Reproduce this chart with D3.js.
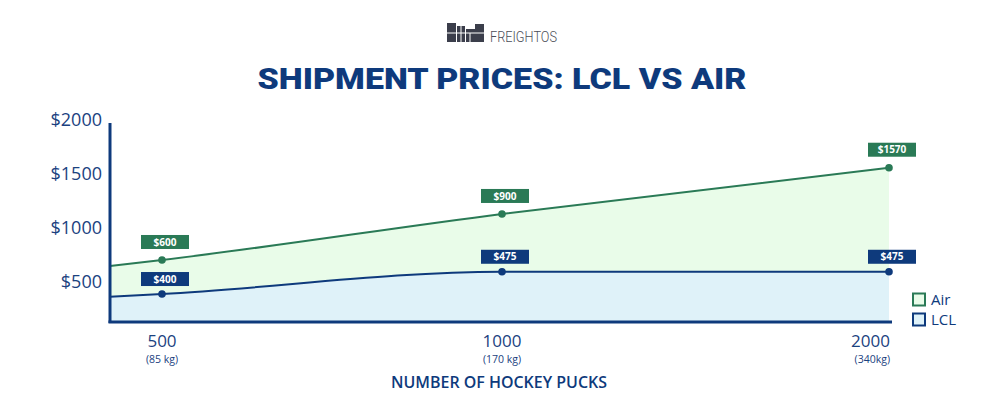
<!DOCTYPE html>
<html><head><meta charset="utf-8">
<script src="https://cdn.jsdelivr.net/npm/d3@7"></script>
<style>
html,body{margin:0;padding:0;background:#fff;}
svg{display:block;}
</style></head>
<body>
<script>
// ---- data ----
const pucks = [500, 1000, 2000];
const weights = ["(85 kg)", "(170 kg)", "(340kg)"];
const airValues = [704, 1130, 1558];      // plotted heights
const lclValues = [389, 595, 595];
const airLabels = ["$600", "$900", "$1570"];
const lclLabels = ["$400", "$475", "$475"];
const axisPucks = 425;                     // x value where the lines meet the y axis
const airAtAxis = 648;
const lclAtAxis = 364;
const yTicks = [500, 1000, 1500, 2000];
const yMin = 130, yMax = 1972;
const seriesNames = ["Air", "LCL"];

const W = 1003, H = 398;
const navy = "#0e3a7c", green = "#2a7a56";
const greenFill = "#e9fce9", blueFill = "#dff2f9";

const svg = d3.select("body").append("svg").attr("width", W).attr("height", H);
svg.append("rect").attr("width", W).attr("height", H).attr("fill", "#fff");

const x = d3.scaleLinear().domain([axisPucks, 500, 1000, 2000]).range([110, 162, 502, 889]);
const y = d3.scaleLinear().domain([yMin, yMax]).range([322, 123]);

const airData = [{p: axisPucks, v: airAtAxis}].concat(pucks.map((p, i) => ({p, v: airValues[i]})));
const lclData = [{p: axisPucks, v: lclAtAxis}].concat(pucks.map((p, i) => ({p, v: lclValues[i]})));

// ---- logo ----
const logo = svg.append("g");
const blocks = [[447,23,9,19],[457,26,8,16],[466,29,9,13],[475,24,9,18]];
logo.selectAll("rect").data(blocks).join("rect")
  .attr("x", d => d[0]).attr("y", d => d[1]).attr("width", d => d[2]).attr("height", d => d[3])
  .attr("fill", "#3b3e4b");
logo.selectAll("line").data([[447,33,484,33],[461,26,461,42],[470,33,470,42]]).join("line")
  .attr("x1", d => d[0]).attr("y1", d => d[1]).attr("x2", d => d[2]).attr("y2", d => d[3])
  .attr("stroke", "#fff").attr("stroke-width", 1);
logo.append("text").attr("x", 490).attr("y", 42).text("FREIGHTOS")
  .attr("font-family", "Roboto").attr("font-weight", 300).attr("font-size", 14)
  .attr("textLength", 67).attr("lengthAdjust", "spacingAndGlyphs").attr("fill", "#4a4d57");

// ---- title ----
svg.append("text").attr("x", 502).attr("y", 89).attr("text-anchor", "middle")
  .text("SHIPMENT PRICES: LCL VS AIR")
  .attr("font-family", "Roboto").attr("font-weight", 900).attr("font-size", 30)
  .attr("textLength", 489).attr("lengthAdjust", "spacingAndGlyphs").attr("fill", navy);

// ---- areas ----
const curve = d3.curveMonotoneX;
const area = d3.area().x(d => x(d.p)).y0(y(yMin)).y1(d => y(d.v)).curve(curve);
const line = d3.line().x(d => x(d.p)).y(d => y(d.v)).curve(curve);

svg.append("path").datum(airData).attr("d", area).attr("fill", greenFill);
svg.append("path").datum(lclData).attr("d", area).attr("fill", blueFill);

svg.append("path").datum(airData).attr("d", line).attr("fill", "none").attr("stroke", green).attr("stroke-width", 2);
svg.append("path").datum(lclData).attr("d", line).attr("fill", "none").attr("stroke", navy).attr("stroke-width", 2);

// ---- axes ----
const yAxis = d3.axisLeft(y).tickValues(yTicks).tickSize(0).tickPadding(8).tickFormat(d => "$" + d);
const gy = svg.append("g").attr("transform", "translate(110,0)").call(yAxis);
gy.select(".domain").remove();
gy.selectAll("text").attr("font-family", "Open Sans").attr("font-size", 18).attr("fill", "#1b427f");

svg.append("line").attr("x1", 110).attr("x2", 110).attr("y1", 123).attr("y2", 323)
  .attr("stroke", navy).attr("stroke-width", 3);
svg.append("line").attr("x1", 108.5).attr("x2", x(2000) + 3).attr("y1", 322).attr("y2", 322)
  .attr("stroke", navy).attr("stroke-width", 3);

// x tick labels
const last = pucks.length - 1;
const xt = svg.append("g").selectAll("g").data(pucks).join("g");
xt.append("text").attr("x", (d, i) => x(d) + (i === last ? 1 : 0)).attr("y", 346.5)
  .attr("text-anchor", (d, i) => i === last ? "end" : "middle")
  .text(d => d).attr("font-family", "Open Sans").attr("font-size", 17).attr("fill", "#1b427f");
xt.append("text").attr("x", (d, i) => x(d) + (i === last ? 1 : 0)).attr("y", 362.5)
  .attr("text-anchor", (d, i) => i === last ? "end" : "middle")
  .text((d, i) => weights[i]).attr("font-family", "Open Sans").attr("font-size", 10.5).attr("fill", "#1b427f");

svg.append("text").attr("x", 499).attr("y", 388).attr("text-anchor", "middle")
  .text("NUMBER OF HOCKEY PUCKS").attr("font-family", "Open Sans").attr("font-weight", 600)
  .attr("font-size", 17).attr("textLength", 216).attr("lengthAdjust", "spacingAndGlyphs").attr("fill", navy);

// ---- points & value labels ----
function drawPoints(vals, labels, color, off) {
  const g = svg.append("g");
  pucks.forEach((p, i) => {
    const cx = x(p), cy = y(vals[i]);
    g.append("circle").attr("cx", cx).attr("cy", cy).attr("r", 3.8).attr("fill", color);
    g.append("rect").attr("x", cx + 3 - 24).attr("y", cy - off - 7).attr("width", 48).attr("height", 14).attr("fill", color);
    g.append("text").attr("x", cx + 3).attr("y", cy - off + 3.6).attr("text-anchor", "middle")
      .text(labels[i]).attr("font-family", "Open Sans").attr("font-weight", 700).attr("font-size", 10).attr("fill", "#fff");
  });
}
drawPoints(airValues, airLabels, green, 18);
drawPoints(lclValues, lclLabels, navy, 15);

// ---- legend ----
const legColors = [[green, greenFill], [navy, blueFill]];
const leg = svg.append("g").selectAll("g").data(seriesNames).join("g")
  .attr("transform", (d, i) => `translate(913,${293.5 + i * 20})`);
leg.append("rect").attr("width", 12).attr("height", 12)
  .attr("fill", (d, i) => legColors[i][1]).attr("stroke", (d, i) => legColors[i][0]).attr("stroke-width", 2);
leg.append("text").attr("x", 18).attr("y", 11.5).text(d => d)
  .attr("font-family", "Open Sans").attr("font-size", 15).attr("fill", navy);
</script>
</body></html>
